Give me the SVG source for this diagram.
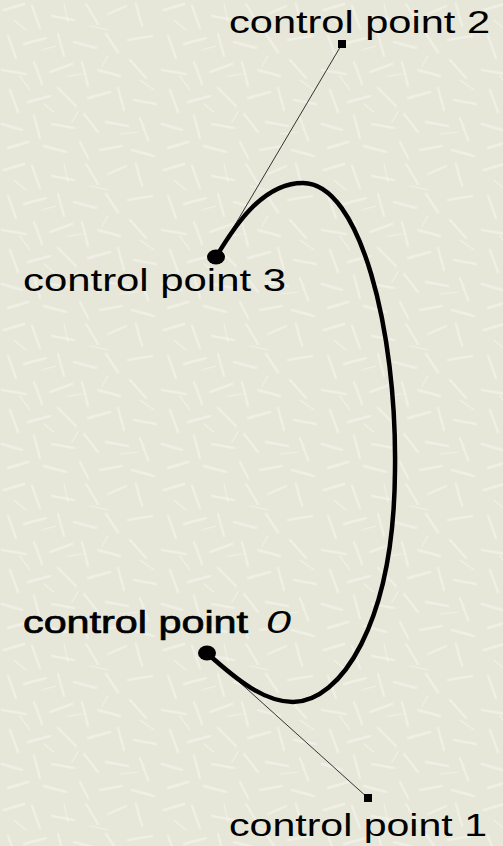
<svg xmlns="http://www.w3.org/2000/svg" width="503" height="846" viewBox="0 0 503 846">
  <defs>
    <!-- light fibrous paper texture -->
    <pattern id="paper" width="160" height="160" patternUnits="userSpaceOnUse">
      <rect width="160" height="160" fill="#e6e6d9"/>
      <g stroke="#f3f3eb" stroke-width="2.4" stroke-linecap="round" opacity="0.7">
        <line x1="4" y1="10" x2="24" y2="4"/>
        <line x1="32" y1="6" x2="40" y2="28"/>
        <line x1="52" y1="16" x2="74" y2="20"/>
        <line x1="86" y1="4" x2="98" y2="24"/>
        <line x1="108" y1="14" x2="126" y2="6"/>
        <line x1="136" y1="4" x2="142" y2="26"/>
        <line x1="8" y1="36" x2="16" y2="58"/>
        <line x1="24" y1="44" x2="46" y2="38"/>
        <line x1="58" y1="34" x2="64" y2="56"/>
        <line x1="74" y1="42" x2="96" y2="48"/>
        <line x1="106" y1="34" x2="118" y2="52"/>
        <line x1="128" y1="40" x2="152" y2="36"/>
        <line x1="2" y1="70" x2="26" y2="74"/>
        <line x1="34" y1="62" x2="42" y2="84"/>
        <line x1="50" y1="72" x2="72" y2="64"/>
        <line x1="82" y1="62" x2="88" y2="86"/>
        <line x1="98" y1="70" x2="120" y2="76"/>
        <line x1="130" y1="60" x2="146" y2="78"/>
        <line x1="10" y1="90" x2="18" y2="112"/>
        <line x1="28" y1="102" x2="50" y2="96"/>
        <line x1="58" y1="88" x2="76" y2="106"/>
        <line x1="88" y1="98" x2="110" y2="92"/>
        <line x1="118" y1="88" x2="124" y2="110"/>
        <line x1="134" y1="100" x2="156" y2="104"/>
        <line x1="2" y1="124" x2="22" y2="130"/>
        <line x1="34" y1="116" x2="40" y2="138"/>
        <line x1="52" y1="124" x2="74" y2="128"/>
        <line x1="84" y1="114" x2="98" y2="132"/>
        <line x1="106" y1="122" x2="128" y2="126"/>
        <line x1="140" y1="118" x2="148" y2="140"/>
        <line x1="8" y1="148" x2="28" y2="142"/>
        <line x1="44" y1="146" x2="66" y2="152"/>
        <line x1="80" y1="142" x2="88" y2="158"/>
        <line x1="100" y1="150" x2="122" y2="146"/>
        <line x1="132" y1="150" x2="154" y2="156"/>
      </g>
      <g stroke="#fafaf4" stroke-width="1.2" stroke-linecap="round" opacity="0.5">
        <line x1="14" y1="20" x2="26" y2="30"/>
        <line x1="64" y1="4" x2="68" y2="22"/>
        <line x1="42" y1="50" x2="56" y2="46"/>
        <line x1="90" y1="26" x2="108" y2="30"/>
        <line x1="20" y1="76" x2="30" y2="90"/>
        <line x1="68" y1="76" x2="82" y2="74"/>
        <line x1="108" y1="56" x2="102" y2="66"/>
        <line x1="44" y1="104" x2="54" y2="112"/>
        <line x1="78" y1="112" x2="72" y2="122"/>
        <line x1="120" y1="134" x2="138" y2="132"/>
        <line x1="140" y1="80" x2="154" y2="90"/>
      </g>
    </pattern>
    <style>
      .label { font-family: "Liberation Sans", Arial, sans-serif; font-size: 32px; fill: #000; }
      .handle { stroke: #333; stroke-width: 1; fill: none; }
      .curve { stroke: #000; stroke-width: 4.5; fill: none; stroke-linecap: round; }
      .anchor { fill: #000; }
      .ctrl { fill: #000; }
    </style>
  </defs>

  <rect width="503" height="846" fill="url(#paper)"/>

  <!-- handles from the end points to their control points -->
  <g id="connectors">
    <line class="handle" x1="207" y1="653" x2="368" y2="798"/>
    <line class="handle" x1="216" y1="257" x2="342" y2="44"/>
  </g>

  <!-- the Bezier curve itself -->
  <g id="curve">
    <path class="curve" d="M208,654 C238,681 265,702 293,702 C340,702 394,625 395,470 C397,330 360,183 303,183 C262,183 234,227 216,257"/>
  </g>

  <g id="point0">
    <ellipse class="anchor" cx="207" cy="653" rx="9" ry="7.5"/>
    <text class="label" x="23" y="633" textLength="225" lengthAdjust="spacingAndGlyphs" stroke="#000" stroke-width="0.7">control point</text>
    <text class="label" x="266" y="633" font-style="italic" textLength="25" lengthAdjust="spacingAndGlyphs">0</text>
  </g>

  <g id="point1">
    <rect class="ctrl" x="364" y="794" width="8" height="8"/>
    <text class="label" x="229" y="836" textLength="258" lengthAdjust="spacingAndGlyphs">control point 1</text>
  </g>

  <g id="point2">
    <rect class="ctrl" x="338" y="40" width="8" height="8"/>
    <text class="label" x="229" y="33" textLength="261" lengthAdjust="spacingAndGlyphs">control point 2</text>
  </g>

  <g id="point3">
    <ellipse class="anchor" cx="216" cy="257" rx="9" ry="7.5"/>
    <text class="label" x="23" y="291" textLength="263" lengthAdjust="spacingAndGlyphs">control point 3</text>
  </g>
</svg>
